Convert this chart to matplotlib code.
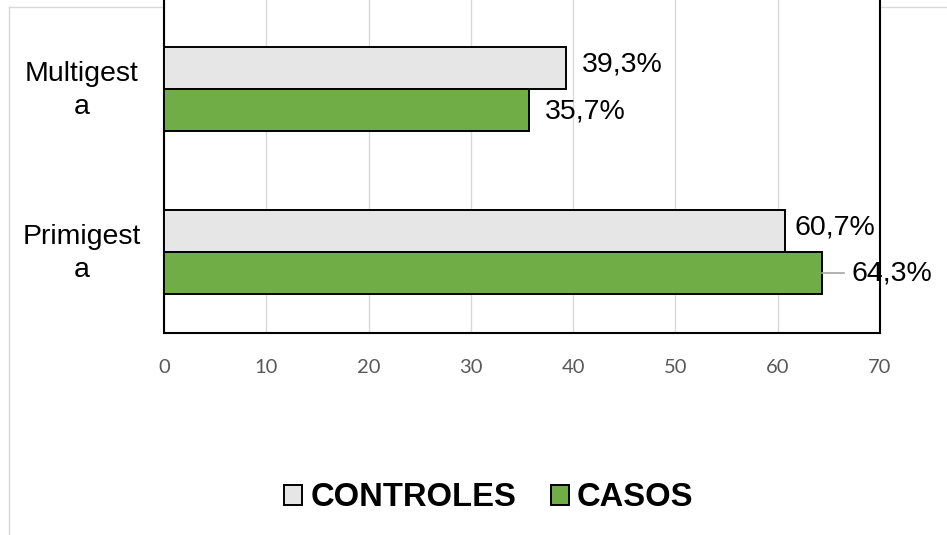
import matplotlib
matplotlib.use("Agg")
import matplotlib.pyplot as plt
from matplotlib.patches import Patch
from matplotlib.lines import Line2D
import matplotlib.transforms as mtransforms

# data
categorias = ["Primigest\na", "Multigest\na"]
controles = [60.7, 39.3]
casos = [64.3, 35.7]
etiquetas_controles = ["60,7%", "39,3%"]
etiquetas_casos = ["64,3%", "35,7%"]
series = ["CONTROLES", "CASOS"]

color_controles = "#E7E6E6"
color_casos = "#70AD47"

fig = plt.figure(figsize=(9.47, 5.35), dpi=100)
ax = fig.add_axes([164 / 947, 1 - 333 / 535, 716 / 947, 333 / 535])

y = list(range(len(categorias)))
alto = 0.26
ax.barh([v + alto / 2 for v in y], controles, height=alto, color=color_controles,
        edgecolor="black", linewidth=1.4, zorder=3)
ax.barh([v - alto / 2 for v in y], casos, height=alto, color=color_casos,
        edgecolor="black", linewidth=1.4, zorder=3)

fs = 20.5
for i in y:
    ax.text(controles[i] + 0.9 if controles[i] > 50 else controles[i] + 1.6,
            i + alto / 2 + 0.02, etiquetas_controles[i], ha="left", va="center",
            fontsize=fs, family="Liberation Sans", zorder=4)
    if casos[i] > 62:
        # leader line to the label that sits past the frame
        ax.add_line(Line2D([casos[i], casos[i] + 2.2], [i - alto / 2] * 2,
                           color="#A6A6A6", linewidth=1.2, clip_on=False, zorder=4))
        ax.text(casos[i] + 2.9, i - alto / 2, etiquetas_casos[i], ha="left",
                va="center", fontsize=fs, family="Liberation Sans", zorder=4)
    else:
        ax.text(casos[i] + 1.5, i - alto / 2 - 0.01, etiquetas_casos[i], ha="left",
                va="center", fontsize=fs, family="Liberation Sans", zorder=4)

# category labels, centred left of the frame
trans = mtransforms.blended_transform_factory(ax.transAxes, ax.transData)
for i, c in enumerate(categorias):
    ax.text(-0.115, i - 0.01, c, transform=trans, ha="center", va="center",
            multialignment="center", fontsize=fs, family="Liberation Sans",
            linespacing=1.35)

ax.set_xlim(0, 70)
ax.set_ylim(-81 / 163, 1 + 89 / 163)
ax.set_xticks(range(0, 71, 10))
ax.set_yticks([])
ax.tick_params(axis="x", length=0, pad=19, labelsize=14.5, labelcolor="#595959")
for lab in ax.get_xticklabels():
    lab.set_family("Lato")
ax.grid(axis="x", color="#D9D9D9", linewidth=1.0, zorder=0)

for s in ["left", "right", "bottom"]:
    ax.spines[s].set_linewidth(1.5)
    ax.spines[s].set_color("black")
ax.spines["top"].set_visible(False)

# light outer chart border
fig.add_artist(Line2D([9 / 947, 1], [1 - 7 / 535] * 2, color="#D9D9D9",
                      linewidth=1.0, transform=fig.transFigure, zorder=0))
fig.add_artist(Line2D([9 / 947] * 2, [0, 1 - 7 / 535], color="#D9D9D9",
                      linewidth=1.0, transform=fig.transFigure, zorder=0))

handles = [Patch(facecolor=color_controles, edgecolor="black", linewidth=1.4),
           Patch(facecolor=color_casos, edgecolor="black", linewidth=1.4)]
fig.legend(handles, series, loc="center", bbox_to_anchor=(489 / 947, 1 - 498 / 535),
           ncol=2, frameon=False, handlelength=0.55, handleheight=0.55,
           handletextpad=0.25, columnspacing=1.05,
           prop={"family": "Liberation Sans", "weight": "bold", "size": 23.6})

fig.savefig("out.png", dpi=100)
